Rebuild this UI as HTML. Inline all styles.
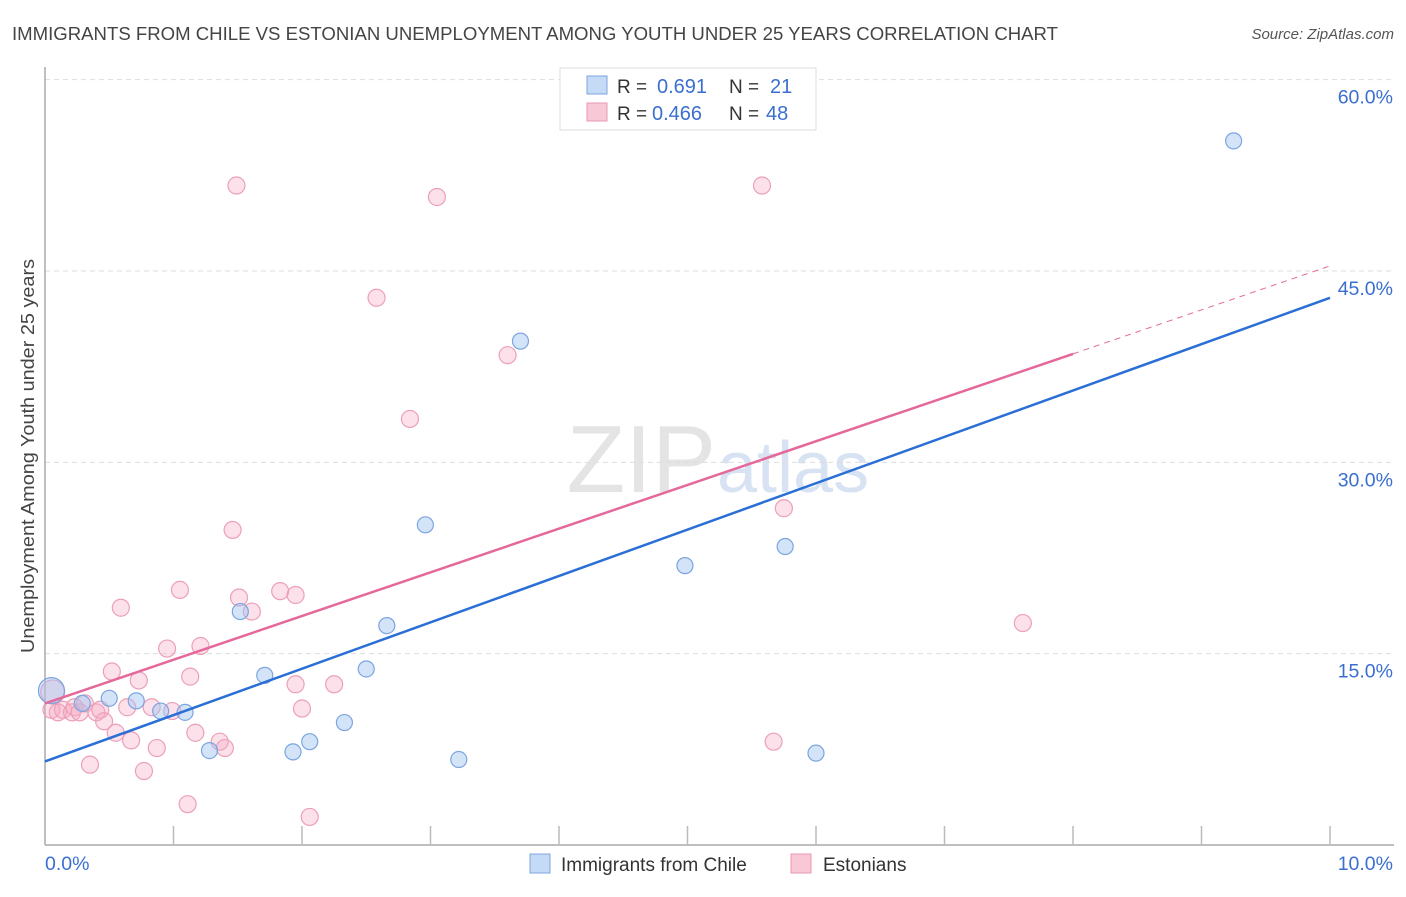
<!DOCTYPE html>
<html><head><meta charset="utf-8">
<style>
body{margin:0;background:#fff;font-family:"Liberation Sans",sans-serif;}
svg text{font-family:"Liberation Sans",sans-serif;}
</style></head>
<body>
<svg id="chart" width="1406" height="892" xmlns="http://www.w3.org/2000/svg">
<text x="12" y="40" font-size="18" fill="#444" textLength="1046" lengthAdjust="spacingAndGlyphs">IMMIGRANTS FROM CHILE VS ESTONIAN UNEMPLOYMENT AMONG YOUTH UNDER 25 YEARS CORRELATION CHART</text>
<text x="1394" y="39" font-size="15" fill="#555" text-anchor="end" font-style="italic">Source: ZipAtlas.com</text>
<text transform="translate(34,456) rotate(-90)" font-size="18" fill="#444" text-anchor="middle" textLength="394" lengthAdjust="spacingAndGlyphs">Unemployment Among Youth under 25 years</text>
<text x="716" y="492" font-size="96" fill="#e4e4e4" text-anchor="end" font-family="Liberation Serif">ZIP</text>
<text x="717" y="492" font-size="72" fill="#d7e3f3">atlas</text>
<g id="grid"></g><g id="axes"></g><g id="pts"></g><g id="lines"></g>
<g>
<rect x="560" y="68" width="256" height="62" fill="#fff" stroke="#ddd"/>
<rect x="587" y="76" width="20" height="18" fill="#c5daf5" stroke="#7aa5e0"/>
<text x="617" y="93" font-size="19" fill="#333">R =</text><text x="657" y="93" font-size="20" fill="#3a6fd0">0.691</text>
<text x="729" y="93" font-size="19" fill="#333">N =</text><text x="770" y="93" font-size="20" fill="#3a6fd0">21</text>
<rect x="587" y="103" width="20" height="18" fill="#f9c8d6" stroke="#e89ab2"/>
<text x="617" y="120" font-size="19" fill="#333">R =</text><text x="652" y="120" font-size="20" fill="#3a6fd0">0.466</text>
<text x="729" y="120" font-size="19" fill="#333">N =</text><text x="766" y="120" font-size="20" fill="#3a6fd0">48</text>
</g>
<g>
<rect x="530" y="854" width="20" height="19" fill="#c5daf5" stroke="#7aa5e0"/>
<text x="561" y="871" font-size="19" fill="#333">Immigrants from Chile</text>
<rect x="791" y="854" width="20" height="19" fill="#f9c8d6" stroke="#e89ab2"/>
<text x="823" y="871" font-size="19" fill="#333">Estonians</text>
</g>
</svg>
<script>
const yTicks=[15,30,45,60];
const xLabels=["0.0%","10.0%"];
const blueX=[0.05,0.29,0.5,0.71,0.9,1.09,1.28,1.52,1.71,1.93,2.06,2.33,2.5,2.66,2.96,3.22,3.7,4.98,5.76,6.0,9.25];
const blueY=[12.1,11.1,11.5,11.3,10.5,10.4,7.4,18.3,13.3,7.3,8.1,9.6,13.8,17.2,25.1,6.7,39.5,21.9,23.4,7.2,55.2];
const blueR=[13,8,8,8,8,8,8,8,8,8,8,8,8,8,8,8,8,8,8,8,8];
const pinkX=[0.05,0.06,0.1,0.14,0.21,0.23,0.27,0.31,0.35,0.4,0.43,0.46,0.52,0.55,0.59,0.64,0.67,0.73,0.77,0.83,0.87,0.95,0.99,1.05,1.11,1.13,1.17,1.21,1.36,1.4,1.46,1.49,1.51,1.61,1.83,1.95,1.95,2.0,2.06,2.25,2.58,2.84,3.05,3.6,5.58,5.67,5.75,7.61];
const pinkY=[10.6,12.0,10.4,10.6,10.4,10.8,10.4,11.1,6.3,10.4,10.6,9.7,13.6,8.8,18.6,10.8,8.2,12.9,5.8,10.8,7.6,15.4,10.5,20.0,3.2,13.2,8.8,15.6,8.1,7.6,24.7,51.7,19.4,18.3,19.9,12.6,19.6,10.7,2.2,12.6,42.9,33.4,50.8,38.4,51.7,8.1,26.4,17.4];
const x=v=>45+v*128.5, y=v=>845-v*12.756;
const NS="http://www.w3.org/2000/svg";
function mk(p,t,a){const e=document.createElementNS(NS,t);for(const k in a)e.setAttribute(k,a[k]);document.getElementById(p).appendChild(e);return e;}
yTicks.forEach(v=>{
 const l=mk('grid','line',{x1:45,x2:1394,y1:y(v),y2:y(v),stroke:'#ddd','stroke-dasharray':'5,4'});
 
 
 const t=mk('grid','text',{x:1393,y:y(v)+24,'font-size':19.5,fill:'#3a6fd0','text-anchor':'end'});t.textContent=v.toFixed(1)+'%';
 
 
});
mk('axes','line',{x1:45,x2:45,y1:67,y2:845,stroke:'#aaa','stroke-width':1.5});
mk('axes','line',{x1:45,x2:1394,y1:845,y2:845,stroke:'#aaa','stroke-width':1.5});
for(let i=1;i<=10;i++){const l=mk('axes','line',{x1:x(i),x2:x(i),y1:826,y2:845,stroke:'#bbb','stroke-width':1.5});
 
 }
const t0=mk('axes','text',{x:45,y:870,'font-size':19.5,fill:'#3a6fd0'});t0.textContent=xLabels[0];


const t1=mk('axes','text',{x:1393,y:870,'font-size':19.5,fill:'#3a6fd0','text-anchor':'end'});t1.textContent=xLabels[1];


pinkX.forEach((v,i)=>{const c=mk('pts','circle',{cx:x(v),cy:y(pinkY[i]),r:i==1?12:8.5,fill:'rgba(246,170,195,0.35)',stroke:'#eca0b8','stroke-width':1.2});
 
 });
blueX.forEach((v,i)=>{const c=mk('pts','circle',{cx:x(v),cy:y(blueY[i]),r:blueR[i],fill:'rgba(160,195,240,0.45)',stroke:'#7aa5e0','stroke-width':1.2});
 
 });
const bl=mk('lines','line',{x1:x(0),y1:y(6.55),x2:x(10),y2:y(42.9),stroke:'#2a6fd6','stroke-width':2.5});


const pl=mk('lines','line',{x1:x(0),y1:y(11.1),x2:x(8),y2:y(38.5),stroke:'#e5689a','stroke-width':2.5});


const pd=mk('lines','line',{x1:x(8),y1:y(38.5),x2:x(10),y2:y(45.4),stroke:'#e5689a','stroke-width':1,'stroke-dasharray':'6,5'});


</script>
</body></html>
